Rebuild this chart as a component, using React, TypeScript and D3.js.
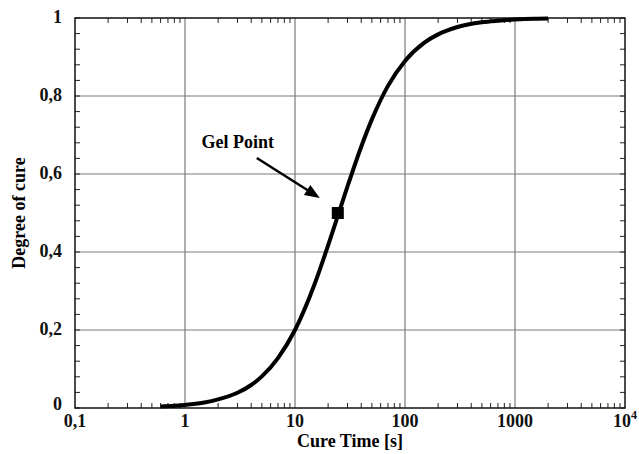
import { useEffect, useRef } from 'react';
import * as d3 from 'd3';

// cure curve
const cureTime = [0.6, 0.8, 1, 1.5, 2, 3, 4, 5, 7, 10, 15, 20, 25, 30, 40, 50, 70, 100, 150, 200, 300, 500, 700, 1000, 1500, 2000];
const degree = [0.004, 0.0055, 0.008, 0.014, 0.022, 0.039, 0.059, 0.081, 0.128, 0.2, 0.316, 0.417, 0.5, 0.568, 0.67, 0.74, 0.826, 0.89, 0.937, 0.958, 0.977, 0.989, 0.993, 0.996, 0.998, 0.9985];

const gelPoint = { t: 24.5, a: 0.5, label: 'Gel Point' };

const xTicks = [0.1, 1, 10, 100, 1000, 10000];
const xTickLabels = ['0,1', '1', '10', '100', '1000', '10'];
const yTicks = [0, 0.2, 0.4, 0.6, 0.8, 1];
const yTickLabels = ['0', '0,2', '0,4', '0,6', '0,8', '1'];

const App = () => {
  const ref = useRef<SVGSVGElement | null>(null);

  useEffect(() => {
    if (!ref.current) return;
    const svg = d3.select(ref.current);
    svg.selectAll('*').remove();

    const width = 639;
    const height = 454;
    const margin = { top: 18, right: 14, bottom: 46, left: 75 };
    const x0 = margin.left;
    const x1 = width - margin.right;
    const y0 = height - margin.bottom;
    const y1 = margin.top;

    const x = d3.scaleLog().domain([0.1, 10000]).range([x0, x1]);
    const y = d3.scaleLinear().domain([0, 1]).range([y0, y1]);
    const font = "'Liberation Serif', serif";

    // grid
    const grid = svg.append('g').attr('stroke', '#7a7a7a').attr('stroke-width', 1.2);
    xTicks.slice(1, -1).forEach((t) => {
      grid.append('line').attr('x1', x(t)).attr('x2', x(t)).attr('y1', y0).attr('y2', y1);
    });
    yTicks.slice(1, -1).forEach((v) => {
      grid.append('line').attr('x1', x0).attr('x2', x1).attr('y1', y(v)).attr('y2', y(v));
    });

    // minor ticks
    const ticks = svg.append('g').attr('stroke', '#222').attr('stroke-width', 1);
    const minorX: number[] = [];
    for (let d = 0.1; d < 10000; d *= 10) {
      for (let k = 2; k <= 9; k++) minorX.push(d * k);
    }
    minorX.forEach((t) => {
      ticks.append('line').attr('x1', x(t)).attr('x2', x(t)).attr('y1', y0).attr('y2', y0 - 5);
      ticks.append('line').attr('x1', x(t)).attr('x2', x(t)).attr('y1', y1).attr('y2', y1 + 5);
    });
    d3.range(0, 1.0001, 0.04).forEach((v) => {
      ticks.append('line').attr('x1', x0).attr('x2', x0 + 5).attr('y1', y(v)).attr('y2', y(v));
      ticks.append('line').attr('x1', x1).attr('x2', x1 - 5).attr('y1', y(v)).attr('y2', y(v));
    });

    // frame
    svg.append('rect')
      .attr('x', x0).attr('y', y1)
      .attr('width', x1 - x0).attr('height', y0 - y1)
      .attr('fill', 'none').attr('stroke', '#111').attr('stroke-width', 1.5);

    // curve
    const pts = cureTime.map((t, i) => [t, degree[i]] as [number, number]);
    const line = d3.line<[number, number]>()
      .x((d) => x(d[0]))
      .y((d) => y(d[1]))
      .curve(d3.curveMonotoneX);
    svg.append('path')
      .attr('d', line(pts) as string)
      .attr('fill', 'none')
      .attr('stroke', '#000')
      .attr('stroke-width', 4)
      .attr('stroke-linecap', 'butt');

    // gel point marker
    const gx = x(gelPoint.t);
    const gy = y(gelPoint.a);
    svg.append('rect')
      .attr('x', gx - 6).attr('y', gy - 6)
      .attr('width', 12).attr('height', 12)
      .attr('fill', '#000');

    // arrow
    const ax1 = gx - 81, ay1 = gy - 55;
    const ax2 = gx - 18, ay2 = gy - 15;
    const ang = Math.atan2(ay2 - ay1, ax2 - ax1);
    const hl = 15, hw = 6;
    svg.append('line')
      .attr('x1', ax1).attr('y1', ay1)
      .attr('x2', ax2 - Math.cos(ang) * hl * 0.8).attr('y2', ay2 - Math.sin(ang) * hl * 0.8)
      .attr('stroke', '#000').attr('stroke-width', 2.5);
    const bx = ax2 - Math.cos(ang) * hl;
    const by = ay2 - Math.sin(ang) * hl;
    svg.append('polygon')
      .attr('points', [
        [ax2, ay2],
        [bx + Math.sin(ang) * hw, by - Math.cos(ang) * hw],
        [bx - Math.sin(ang) * hw, by + Math.cos(ang) * hw],
      ].map((p) => p.join(',')).join(' '))
      .attr('fill', '#000');

    svg.append('text')
      .attr('x', gx - 100).attr('y', gy - 65)
      .attr('text-anchor', 'middle')
      .style('font-family', font).attr('font-weight', 'bold').attr('font-size', 18)
      .text(gelPoint.label);

    // tick labels
    const labels = svg.append('g')
      .style('font-family', font).attr('font-weight', 'bold').attr('font-size', 18)
      .attr('fill', '#111');
    xTicks.forEach((t, i) => {
      const tx = labels.append('text')
        .attr('x', x(t)).attr('y', y0 + 19)
        .attr('text-anchor', 'middle')
        .text(xTickLabels[i]);
      if (i === xTicks.length - 1) {
        tx.append('tspan').attr('dy', -8).attr('font-size', 12).text('4');
      }
    });
    yTicks.forEach((v, i) => {
      labels.append('text')
        .attr('x', x0 - 13).attr('y', y(v) + (i === 0 ? 2 : 5))
        .attr('text-anchor', 'end')
        .text(yTickLabels[i]);
    });

    // axis titles
    svg.append('text')
      .attr('x', (x0 + x1) / 2).attr('y', height - 7)
      .attr('text-anchor', 'middle')
      .style('font-family', font).attr('font-weight', 'bold').attr('font-size', 18)
      .text('Cure Time [s]');
    svg.append('text')
      .attr('transform', `translate(25,${(y0 + y1) / 2}) rotate(-90)`)
      .attr('text-anchor', 'middle')
      .style('font-family', font).attr('font-weight', 'bold').attr('font-size', 18)
      .text('Degree of cure');
  }, []);

  return (
    <svg
      ref={ref}
      width={639}
      height={454}
      style={{ position: 'absolute', left: 0, top: 0, background: '#fff' }}
    />
  );
};

export default App;
